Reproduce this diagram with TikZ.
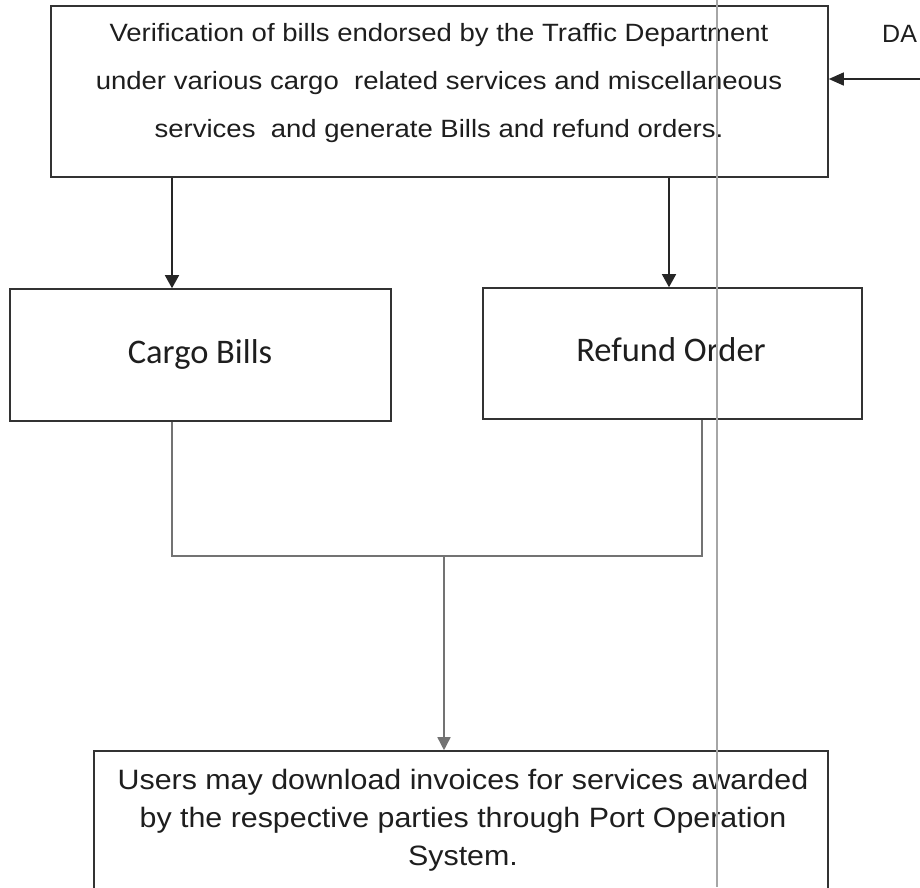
\documentclass[tikz,border=0pt]{standalone}
\usepackage{fontspec}
\setmainfont{Liberation Sans}
\newfontfamily\widesans[FakeStretch=1.1]{Liberation Sans}
\newfontfamily\widersans[FakeStretch=1.085]{Liberation Sans}
\newfontfamily\calib{Carlito}
\usetikzlibrary{arrows.meta}
\definecolor{ink}{HTML}{1E1E1E}
\begin{document}
\begin{tikzpicture}[x=1pt,y=-1pt,
  box/.style={draw=black!80, line width=1.6pt, inner sep=0pt, fill=none},
  txt/.style={text=ink, inner sep=0pt, align=center},
  flow/.style={draw=black!85, line width=1.5pt, -{Triangle[length=13pt,width=14pt]}},
  inflow/.style={draw=black!85, line width=1.5pt, -{Triangle[length=15pt,width=13pt]}},
  merge/.style={draw=black!55, line width=1.5pt},
  mergearrow/.style={merge, -{Triangle[length=13pt,width=13pt,fill=black!55]}},
  fold/.style={draw=black!35, line width=1.1pt}]
\useasboundingbox (0,0) rectangle (920,887);
\clip (0,0) rectangle (920,887);
\fill[white] (0,0) rectangle (920,887);

% process boxes
\node[box, minimum width=777pt, minimum height=171pt] (verify) at (439.5,91.5) {};
\node[box, minimum width=381pt, minimum height=132pt] (cargo) at (200.5,355) {};
\node[box, minimum width=379pt, minimum height=131pt] (refund) at (672.5,353.5) {};
\node[box, minimum width=734pt, minimum height=160pt] (users) at (461,831) {};

% box texts
\node[txt, font=\widesans\fontsize{25}{48}\selectfont] (verifytext) at (439,83.5)
  {Verification of bills endorsed by the Traffic Department\\
   under various cargo\ \ related services and miscellaneous\\
   services\ \ and generate Bills and refund orders.};
\node[txt, font=\calib\fontsize{34.5}{40}\selectfont] (cargotext) at (200,354.5) {Cargo Bills};
\node[txt, font=\calib\fontsize{34.5}{40}\selectfont] (refundtext) at (671,349.5) {Refund Order};
\node[txt, font=\widersans\fontsize{28}{38}\selectfont] (userstext) at (463,820.5)
  {Users may download invoices for services awarded\\
   by the respective parties through Port Operation\\
   System.};

% incoming data
\node[txt, font=\fontsize{25}{30}\selectfont, anchor=base west] (da) at (882,42) {DA};
\coordinate (dain) at (920,79);
\draw[inflow] (dain) -- (verify.east |- dain);

% split into bills and refund orders
\draw[flow] (verify.south -| 172,0) -- (cargo.north -| 172,0);
\draw[flow] (verify.south -| 669,0) -- (refund.north -| 669,0);

% merge towards the user download
\coordinate (join) at (444,556);
\draw[merge] (cargo.south -| 172,0) |- (join) -| (refund.south -| 702,0);
\draw[mergearrow] (join) -- (users.north -| join);

% page fold line
\draw[fold] (717,0) -- (717,887);
\end{tikzpicture}
\end{document}
